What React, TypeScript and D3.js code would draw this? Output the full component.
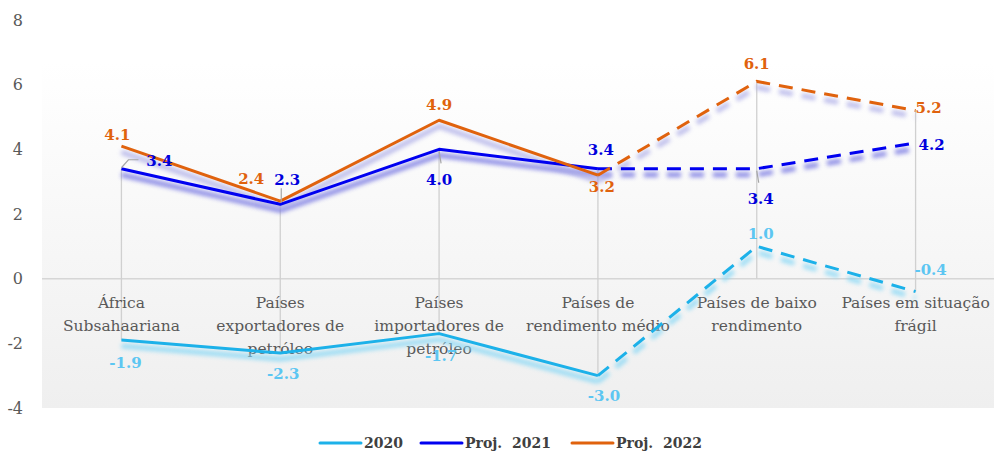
import React from "react";
import * as d3 from "d3";

const categories: string[][] = [
  ["África", "Subsahaariana"],
  ["Países", "exportadores de", "petróleo"],
  ["Países", "importadores de", "petróleo"],
  ["Países de", "rendimento médio"],
  ["Países de baixo", "rendimento"],
  ["Países em situação", "frágil"],
];
const seriesNames = ["2020", "Proj.  2021", "Proj.  2022"];
const values2020 = [-1.9, -2.3, -1.7, -3.0, 1.0, -0.4];
const values2021 = [3.4, 2.3, 4.0, 3.4, 3.4, 4.2];
const values2022 = [4.1, 2.4, 4.9, 3.2, 6.1, 5.2];
const hiLoTop = [3.4, 2.3, 4.0, 3.4, 6.1, 5.2];
const hiLoBottom = [-1.9, -2.3, -1.7, -3.0, 0, -0.4];
const yTicks = [-4, -2, 0, 2, 4, 6, 8];
const solidEnd = 3; // last index of actual data; dashed after

// label offsets (layout)
const labelOffsets2020 = [[4, 23], [3, 21], [2, 22], [6, 20], [4, -13], [15, -22]];
const labelOffsets2021 = [[38, -8], [7, -25], [0, 30], [3, -19], [4, 30], [16, 2]];
const labelOffsets2022 = [[-4, -11], [-29, -22], [0, -15], [4, 12], [0, -18], [13, -3]];

const W = 994;
const H = 453;
const FONT = "'Palatino Linotype','Book Antiqua',Palatino,'DejaVu Serif',serif";

const fmt = (v: number) => d3.format(".1f")(v).replace("\u2212", "-");

export default function App() {
  const x = d3.scaleBand<number>().domain(d3.range(6)).range([42, 995]);
  const cx = (i: number) => (x(i) as number) + x.bandwidth() / 2;
  const y = d3.scaleLinear().domain([-4, 8]).range([408, 20]);

  const series = [
    { name: seriesNames[0], vals: values2020, color: "#1cb1e9", label: "#5cc6f2", shadow: "#7fd6f6", offs: labelOffsets2020 },
    { name: seriesNames[1], vals: values2021, color: "#0000f0", label: "#0000dd", shadow: "#6a6ae0", offs: labelOffsets2021 },
    { name: seriesNames[2], vals: values2022, color: "#e0620d", label: "#e0620d", shadow: "#a8a8e6", offs: labelOffsets2022 },
  ];

  const line = d3
    .line<number>()
    .x((_, i) => cx(i))
    .y((v) => y(v));
  const solidPath = (vals: number[]) => line(vals.slice(0, solidEnd + 1)) as string;
  const dashedPath = (vals: number[]) =>
    d3
      .line<number>()
      .x((_, i) => cx(i + solidEnd))
      .y((v) => y(v))(vals.slice(solidEnd)) as string;

  const legendItems = [
    { x: 320, name: series[0].name, color: series[0].color },
    { x: 421, name: series[1].name, color: series[1].color },
    { x: 572, name: series[2].name, color: series[2].color },
  ];

  return (
    <svg width={W} height={H} style={{ position: "absolute", left: 0, top: 0, display: "block" }}>
      <defs>
        <linearGradient id="bg" x1="0" y1="0" x2="0" y2="1">
          <stop offset="0" stopColor="#ffffff" />
          <stop offset="1" stopColor="#efefef" />
        </linearGradient>
        <filter id="blur" x="-10%" y="-30%" width="120%" height="160%">
          <feGaussianBlur stdDeviation="2" />
        </filter>
      </defs>
      <rect x={0} y={0} width={W} height={H} fill="#ffffff" />
      <rect x={42} y={63} width={953} height={408 - 63} fill="url(#bg)" />

      {/* y tick labels */}
      {yTicks.map((t) => (
        <text key={t} x={23} y={y(t)} dy="0.35em" textAnchor="end" fontFamily={FONT} fontSize={16} fill="#595959">
          {fmt(t).replace(".0", "")}
        </text>
      ))}

      {/* zero line */}
      <line x1={42} x2={995} y1={y(0)} y2={y(0)} stroke="#d6d6d6" strokeWidth={1.5} />

      {/* high-low lines */}
      {hiLoTop.map((t, i) => (
        <line key={i} x1={cx(i)} x2={cx(i)} y1={y(t)} y2={y(hiLoBottom[i])} stroke="#d0d0d0" strokeWidth={1.3} />
      ))}

      {/* category labels */}
      {categories.map((lines, i) => (
        <text key={i} x={cx(i)} y={308} textAnchor="middle" fontFamily={FONT} fontSize={15.5} fill="#595959">
          {lines.map((l, j) => (
            <tspan key={j} x={cx(i)} dy={j === 0 ? 0 : 23}>
              {l}
            </tspan>
          ))}
        </text>
      ))}

      {/* shadows */}
      {series.map((s, k) => (
        <g key={"sh" + k} transform="translate(0,6)" filter="url(#blur)" opacity={0.75}>
          <path d={solidPath(s.vals)} fill="none" stroke={s.shadow} strokeWidth={5} strokeLinejoin="round" />
          <path d={dashedPath(s.vals)} fill="none" stroke={s.shadow} strokeWidth={5} strokeDasharray="14 9" />
        </g>
      ))}

      {/* lines */}
      {series.map((s, k) => (
        <g key={"ln" + k}>
          <path d={solidPath(s.vals)} fill="none" stroke={s.color} strokeWidth={3} strokeLinejoin="round" />
          <path d={dashedPath(s.vals)} fill="none" stroke={s.color} strokeWidth={3} strokeDasharray="14 9" />
        </g>
      ))}

      {/* leader lines */}
      <polyline
        points={`${cx(0)},${y(values2021[0]) - 1} ${cx(0) + 7},${y(values2021[0]) - 9} ${cx(0) + 17},${y(values2021[0]) - 9}`}
        fill="none"
        stroke="#a6a6a6"
        strokeWidth={1.2}
      />
      <line x1={cx(1) + 1} x2={cx(1) + 1} y1={y(values2021[1]) - 16} y2={y(values2021[1]) - 2} stroke="#a6a6a6" strokeWidth={1.2} />
      <line x1={cx(2)} x2={cx(2) + 2} y1={y(values2021[2]) + 2} y2={y(values2021[2]) + 14} stroke="#a6a6a6" strokeWidth={1.2} />
      <line x1={cx(4)} x2={cx(4) + 2} y1={y(values2021[4]) + 2} y2={y(values2021[4]) + 14} stroke="#a6a6a6" strokeWidth={1.2} />

      {/* data labels */}
      {series.map((s, k) =>
        s.vals.map((v, i) => (
          <text
            key={k + "-" + i}
            x={cx(i) + s.offs[i][0]}
            y={y(v) + s.offs[i][1]}
            dy="0.35em"
            textAnchor="middle"
            fontFamily={FONT}
            fontSize={15}
            fontWeight="bold"
            fill={s.label}
          >
            {fmt(v)}
          </text>
        ))
      )}

      {/* legend */}
      {legendItems.map((it, k) => (
        <g key={"lg" + k}>
          <line x1={it.x} x2={it.x + 41} y1={443} y2={443} stroke={it.color} strokeWidth={3} strokeLinecap="round" />
          <text x={it.x + 44} y={443} dy="0.35em" fontFamily={FONT} fontSize={14} fontWeight="bold" fill="#404040" style={{ whiteSpace: "pre" }}>
            {it.name}
          </text>
        </g>
      ))}
    </svg>
  );
}
